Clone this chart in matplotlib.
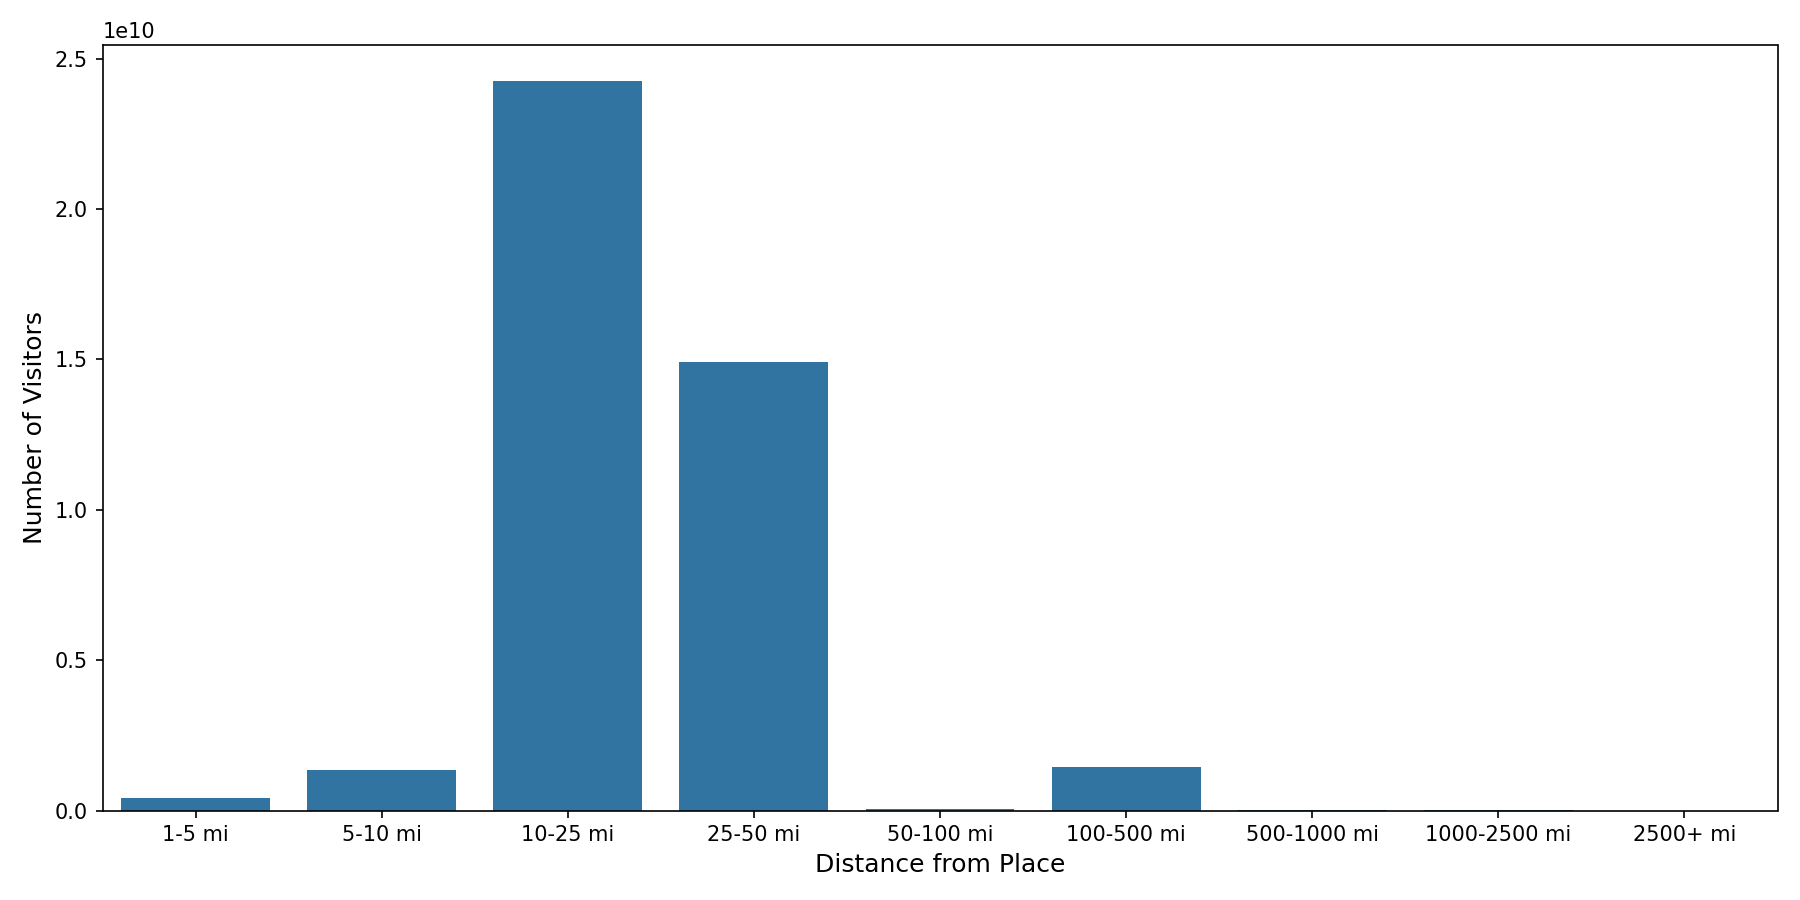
import numpy as np
import pandas as pd
import matplotlib
import matplotlib.pyplot as plt
import seaborn as sns

matplotlib.use('Agg')

distances = ['1-5 mi', '5-10 mi', '10-25 mi', '25-50 mi', '50-100 mi',
             '100-500 mi', '500-1000 mi', '1000-2500 mi', '2500+ mi']
visitors = [4.2e8, 1.34e9, 2.425e10, 1.49e10, 4.5e7,
            1.46e9, 4e6, 3e6, 2e5]

df = pd.DataFrame({'distance': distances, 'visitors': visitors})

fig, ax = plt.subplots(figsize=(12, 6), dpi=150)
sns.barplot(data=df, x='distance', y='visitors', ax=ax)
ax.set_xlabel('Distance from Place', fontsize=12)
ax.set_ylabel('Number of Visitors', fontsize=12)

plt.tight_layout()
plt.savefig('out.png')
